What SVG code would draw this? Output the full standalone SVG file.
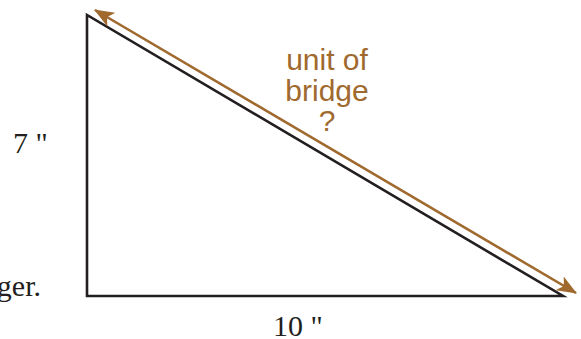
<svg xmlns="http://www.w3.org/2000/svg" width="581" height="339" viewBox="0 0 581 339">
<style>
.tri{fill:none;stroke:#231f20;stroke-width:2.6;stroke-linejoin:miter}
.dim{stroke:#a0692e;stroke-width:2.6;fill:none}
.serif{font-family:"Liberation Serif","Times New Roman",serif;font-size:30px;fill:#231f20}
.lab{font-family:"Liberation Sans",Arial,sans-serif;font-size:30px;fill:#a0692e;text-anchor:middle}
</style>
<defs>
<marker id="ah" viewBox="0 0 10 10" refX="9" refY="5" markerWidth="6" markerHeight="6" markerUnits="userSpaceOnUse" orient="auto-start-reverse">
<path d="M0,0 L10,5 L0,10 L2.5,5 z" fill="#a0692e"/>
</marker>
<marker id="ah2" viewBox="0 0 20 16" refX="19" refY="8" markerWidth="20" markerHeight="16" markerUnits="userSpaceOnUse" orient="auto-start-reverse">
<path d="M0,0 L20,8 L0,16 L5,8 z" fill="#a0692e"/>
</marker>
</defs>
<g id="triangle">
<path class="tri" d="M87,15 L87,296 L563,296 Z"/>
</g>
<g id="connectors">
<line class="dim" x1="95" y1="10" x2="576" y2="293" marker-start="url(#ah2)" marker-end="url(#ah2)"/>
</g>
<g id="labels">
<text class="serif" x="13" y="153">7 "</text>
<text class="serif" x="273" y="336">10 "</text>
<text class="serif" x="41" y="296" text-anchor="end">ger.</text>
<text class="lab" x="327" y="70">unit of</text>
<text class="lab" x="327" y="101">bridge</text>
<text class="lab" x="327" y="131">?</text>
</g>
</svg>
